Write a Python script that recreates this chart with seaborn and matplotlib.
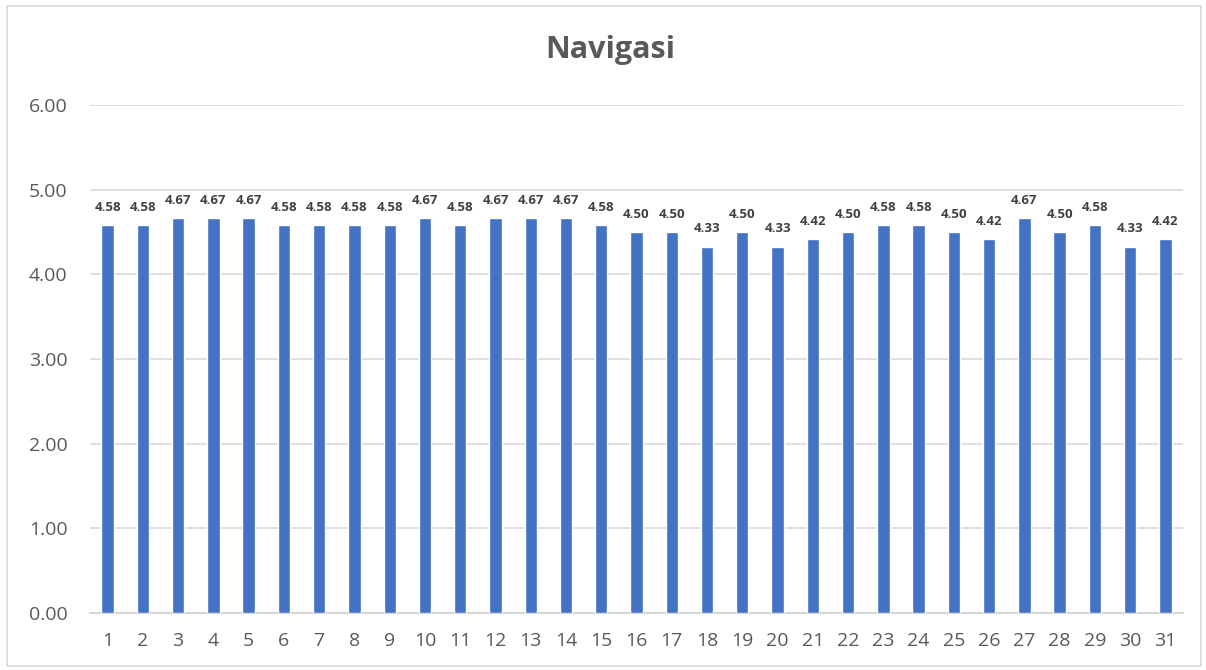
import matplotlib
matplotlib.use("Agg")
import matplotlib.pyplot as plt
import seaborn as sns
import pandas as pd

categories = [str(i) for i in range(1, 32)]
values = [4.58, 4.58, 4.67, 4.67, 4.67, 4.58, 4.58, 4.58, 4.58, 4.67,
          4.58, 4.67, 4.67, 4.67, 4.58, 4.50, 4.50, 4.33, 4.50, 4.33,
          4.42, 4.50, 4.58, 4.58, 4.50, 4.42, 4.67, 4.50, 4.58, 4.33, 4.42]
yticks = [0, 1, 2, 3, 4, 5, 6]
title = "Navigasi"

sns.set_theme(style="white")
plt.rcParams['font.family'] = ['Open Sans', 'DejaVu Sans']

df = pd.DataFrame({"cat": categories, "val": values})

fig = plt.figure(figsize=(12.06, 6.70), dpi=100)
ax = fig.add_axes([0.0746, 0.085, 0.9064, 0.758])

sns.barplot(data=df, x="cat", y="val", color="#4472C4", width=0.35,
            saturation=1, ax=ax, zorder=3)

ax.set_ylim(0, 6)
ax.set_xlim(-0.5, len(categories) - 0.5)
ax.set_yticks(yticks)
ax.set_yticklabels([f"{v:.2f}" for v in yticks], color="#595959", fontsize=14)
ax.tick_params(axis="x", colors="#595959", labelsize=14, length=0, pad=14)
ax.tick_params(axis="y", length=0, pad=16)
ax.set_xlabel("")
ax.set_ylabel("")
ax.yaxis.grid(True, color="#D9D9D9", linewidth=1.2, zorder=0)
for s in ["top", "right", "left"]:
    ax.spines[s].set_visible(False)
ax.spines["bottom"].set_color("#D0D0D0")
ax.spines["bottom"].set_linewidth(1.2)

for c in ax.containers:
    ax.bar_label(c, labels=[f"{v:.2f}" for v in values], padding=8,
                 fontsize=9.5, fontweight="bold", color="#404040")

fig.text(0.506, 0.925, title, ha="center", va="center", fontsize=22,
         fontweight="bold", color="#595959")

border = plt.Rectangle((0.006, 0.006), 0.990, 0.985, transform=fig.transFigure,
                       fill=False, edgecolor="#D9D9D9", linewidth=1.2)
fig.patches.append(border)

fig.savefig("out.png", dpi=100)
